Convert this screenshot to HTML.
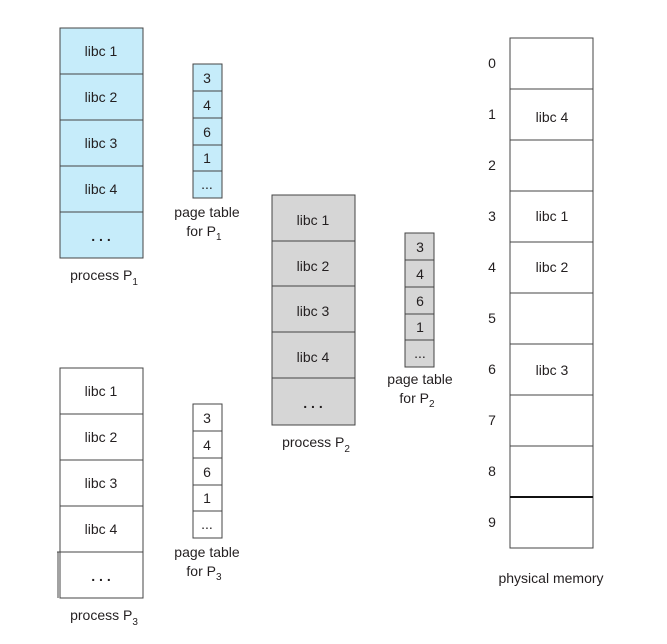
<!DOCTYPE html>
<html><head><meta charset="utf-8"><style>
html,body{margin:0;padding:0;background:#fff;}
svg{display:block;}
text{font-family:"Liberation Sans",sans-serif;fill:#231f20;}
</style></head><body>
<svg width="667" height="644" viewBox="0 0 667 644" xmlns="http://www.w3.org/2000/svg">
<g stroke="#444" stroke-width="1">
<!-- P1 -->
<rect x="60" y="28" width="83" height="230" fill="#c6ecfa"/>
<line x1="60" y1="74" x2="143" y2="74"/><line x1="60" y1="120" x2="143" y2="120"/><line x1="60" y1="166" x2="143" y2="166"/><line x1="60" y1="212" x2="143" y2="212"/>
<!-- PT1 -->
<rect x="193" y="64" width="29" height="134" fill="#c6ecfa"/>
<line x1="193" y1="91" x2="222" y2="91"/><line x1="193" y1="118" x2="222" y2="118"/><line x1="193" y1="145" x2="222" y2="145"/><line x1="193" y1="171" x2="222" y2="171"/>
<!-- P2 -->
<rect x="272" y="195" width="83" height="230" fill="#d6d6d6"/>
<line x1="272" y1="241" x2="355" y2="241"/><line x1="272" y1="286" x2="355" y2="286"/><line x1="272" y1="332" x2="355" y2="332"/><line x1="272" y1="378" x2="355" y2="378"/>
<!-- PT2 -->
<rect x="405" y="233" width="29" height="134" fill="#d6d6d6"/>
<line x1="405" y1="260" x2="434" y2="260"/><line x1="405" y1="287" x2="434" y2="287"/><line x1="405" y1="314" x2="434" y2="314"/><line x1="405" y1="340" x2="434" y2="340"/>
<!-- P3 -->
<rect x="60" y="368" width="83" height="230" fill="#fff"/>
<line x1="60" y1="414" x2="143" y2="414"/><line x1="60" y1="460" x2="143" y2="460"/><line x1="60" y1="506" x2="143" y2="506"/><line x1="57" y1="552" x2="143" y2="552"/>
<line x1="58" y1="552" x2="58" y2="598"/>
<!-- PT3 -->
<rect x="193" y="404" width="29" height="134" fill="#fff"/>
<line x1="193" y1="431" x2="222" y2="431"/><line x1="193" y1="458" x2="222" y2="458"/><line x1="193" y1="485" x2="222" y2="485"/><line x1="193" y1="511" x2="222" y2="511"/>
<!-- physical memory -->
<rect x="510" y="38" width="83" height="510" fill="#fff"/>
<line x1="510" y1="89" x2="593" y2="89"/><line x1="510" y1="140" x2="593" y2="140"/><line x1="510" y1="191" x2="593" y2="191"/><line x1="510" y1="242" x2="593" y2="242"/><line x1="510" y1="293" x2="593" y2="293"/><line x1="510" y1="344" x2="593" y2="344"/><line x1="510" y1="395" x2="593" y2="395"/><line x1="510" y1="446" x2="593" y2="446"/>
<line x1="510" y1="497" x2="593" y2="497" stroke="#111" stroke-width="2"/>
</g>
<g font-size="14" text-anchor="middle">
<text x="101" y="56">libc 1</text><text x="101" y="102">libc 2</text><text x="101" y="148">libc 3</text><text x="101" y="194">libc 4</text><text x="101" y="241" font-weight="bold">. . .</text>
<text x="313" y="225">libc 1</text><text x="313" y="271">libc 2</text><text x="313" y="316">libc 3</text><text x="313" y="362">libc 4</text><text x="313" y="408" font-weight="bold">. . .</text>
<text x="101" y="396">libc 1</text><text x="101" y="442">libc 2</text><text x="101" y="488">libc 3</text><text x="101" y="534">libc 4</text><text x="101" y="581" font-weight="bold">. . .</text>
<text x="207" y="83">3</text><text x="207" y="110">4</text><text x="207" y="137">6</text><text x="207" y="163">1</text><text x="207" y="189">...</text>
<text x="420" y="252">3</text><text x="420" y="279">4</text><text x="420" y="306">6</text><text x="420" y="332">1</text><text x="420" y="358">...</text>
<text x="207" y="423">3</text><text x="207" y="450">4</text><text x="207" y="477">6</text><text x="207" y="503">1</text><text x="207" y="529">...</text>
<text x="207" y="217">page table</text><text x="204" y="236">for P<tspan font-size="10" dy="4">1</tspan></text>
<text x="420" y="384">page table</text><text x="417" y="403">for P<tspan font-size="10" dy="4">2</tspan></text>
<text x="207" y="557">page table</text><text x="204" y="576">for P<tspan font-size="10" dy="4">3</tspan></text>
<text x="104" y="280">process  P<tspan font-size="10" dy="5">1</tspan></text>
<text x="316" y="447">process  P<tspan font-size="10" dy="5">2</tspan></text>
<text x="104" y="620">process  P<tspan font-size="10" dy="5">3</tspan></text>
<text x="552" y="122">libc 4</text><text x="552" y="221">libc 1</text><text x="552" y="272">libc 2</text><text x="552" y="375">libc 3</text>
<text x="551" y="583">physical memory</text>
<text x="492" y="68">0</text><text x="492" y="119">1</text><text x="492" y="170">2</text><text x="492" y="221">3</text><text x="492" y="272">4</text><text x="492" y="323">5</text><text x="492" y="374">6</text><text x="492" y="425">7</text><text x="492" y="476">8</text><text x="492" y="527">9</text>
</g>
</svg>
</body></html>
